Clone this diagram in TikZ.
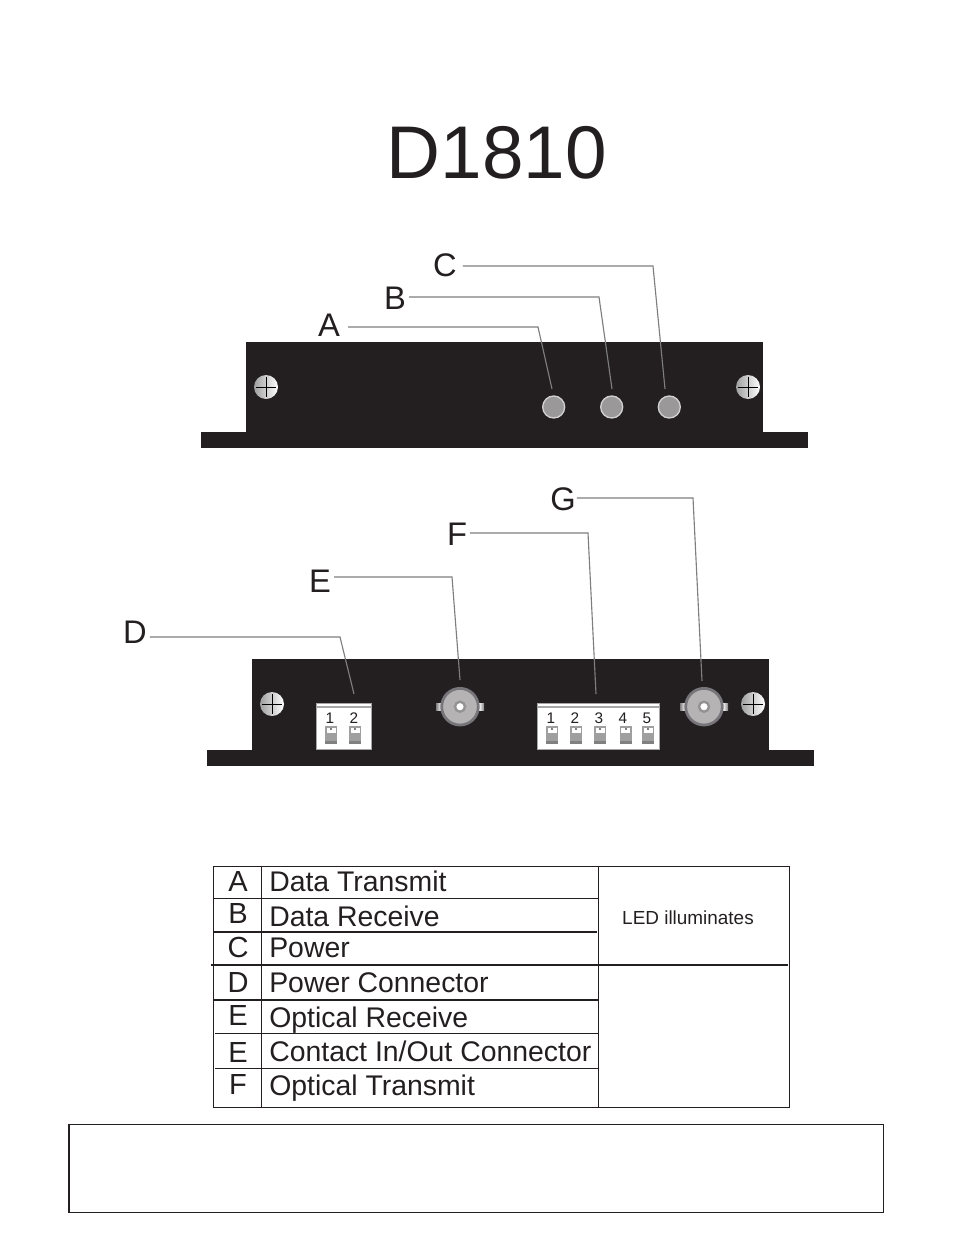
\documentclass[tikz,border=0pt]{standalone}
\usepackage{fontspec}
\setmainfont{Liberation Sans}
\definecolor{panel}{HTML}{231F20}
\definecolor{leaderc}{HTML}{7E7E7E}
\definecolor{ledc}{HTML}{9A9899}
\definecolor{ringc}{HTML}{D2D0D0}
\definecolor{bncc}{HTML}{B5B3B3}
\definecolor{bncd}{HTML}{77757A}
\tikzset{
  panelbox/.style={fill=panel,draw=none},
  leader/.style={draw=leaderc,line width=.85pt},
  callout/.style={font=\fontsize{24.5}{26}\selectfont,text=panel,inner sep=2.2pt},
  ledlamp/.style={circle,fill=ledc,draw=ringc,line width=1pt,minimum size=16.5pt,inner sep=0pt},
  screwhead/.style={circle,left color=gray!75,right color=white,minimum size=18pt,inner sep=0pt},
  screwcross/.style={black,line width=.45pt,shorten >=1.5pt,shorten <=1.5pt},
  bnc/.style={circle,fill=bncc,draw=bncd,line width=2.1pt,minimum size=27.5pt,inner sep=0pt},
  bncpin/.style={circle,fill=white,draw=gray!85,line width=1.8pt,minimum size=7.5pt,inner sep=0pt},
  block/.style={draw=gray!70,line width=1.2pt,fill=white,minimum height=34.5pt,inner sep=0pt},
  pinno/.style={font=\fontsize{11.5}{12}\selectfont,text=panel,inner sep=0pt},
  rule/.style={draw=panel,line width=.7pt},
  heavyrule/.style={draw=panel,line width=1.3pt},
  rowkey/.style={font=\fontsize{21.8}{23}\selectfont,text=panel,anchor=base,inner sep=0pt},
  rowtxt/.style={font=\fontsize{21.3}{23}\selectfont,text=panel,anchor=base west,inner sep=0pt},
}
\begin{document}
\begin{tikzpicture}[x=.75pt,y=-.75pt]
\useasboundingbox (0,0) rectangle (954,1235);
\node[font=\fontsize{56}{60}\selectfont,text=panel,anchor=base,inner sep=0pt] (title) at (497,178) {D1810};
% top panel
\fill[panelbox] (246,342) rectangle (763,440);
\fill[panelbox] (201,432) rectangle (808,448);
\foreach \nm/\sx in {tl/266,tr/748}{
  \node[screwhead] (screw\nm) at (\sx,387) {};
  \draw[screwcross] (screw\nm.west)--(screw\nm.east);
  \draw[screwcross] (screw\nm.north)--(screw\nm.south);
}
\foreach \nm/\lx in {A/553.7,B/611.7,C/669.3}
  \node[ledlamp] (led\nm) at (\lx,407) {};
% bottom panel
\fill[panelbox] (252,659) rectangle (769,758);
\fill[panelbox] (207,750) rectangle (814,766);
\foreach \nm/\sx in {bl/272,br/753}{
  \node[screwhead] (screw\nm) at (\sx,704) {};
  \draw[screwcross] (screw\nm.west)--(screw\nm.east);
  \draw[screwcross] (screw\nm.north)--(screw\nm.south);
}
\foreach \nm/\bx in {E/460,G/704}{
  \fill[left color=gray,right color=white] (\bx-24,703) rectangle (\bx-19,710);
  \fill[left color=white,right color=gray] (\bx+19,703) rectangle (\bx+24,710);
  \node[bnc] (bnc\nm) at (\bx,706.7) {};
  \node[bncpin] (pin\nm) at (bnc\nm) {};
}
\node[block,minimum width=41pt] (blockD) at (344,726.5) {};
\node[block,minimum width=91.5pt] (blockF) at (598.5,726.5) {};
\draw[gray!70,line width=1.2pt] (blockD.north west)++(0,4.5)--++(55,0);
\draw[gray!70,line width=1.2pt] (blockF.north west)++(0,4.5)--++(122,0);
\foreach \n/\dx/\wx in {1/330/331,2/354/355,1/551/552,2/575/576,3/599/600,4/623/625.5,5/647/648}{
  \node[pinno] (no\dx) at (\dx,718) {\n};
  \fill[gray!75] (\wx-6,726) rectangle (\wx+6,744);
  \fill[gray] (\wx-6,741) rectangle (\wx+6,744);
  \fill[white] (\wx-4.5,727.5) rectangle (\wx+4.5,733);
  \fill[gray] (\wx-1,727.5) rectangle (\wx+1,729.5);
}
% call outs
\foreach \nm/\lx/\ly in {A/329/325,B/395/298,C/445/265,D/135/632,E/320/581,F/457/534,G/563/499}
  \node[callout] (lbl\nm) at (\lx,\ly) {\nm};
\foreach \nm/\gap/\ey/\ex/\tx/\ty in {A/3.8/327/538/552/389,B/0/297/599/612/389,C/2.2/266/653/665/389,
    D/0/637/340/354/694,E/0/577/452/460/680,F/0/533/588/596/694,G/-1.5/498/693/702/681}{
  \coordinate (elbow\nm) at (\ex,\ey);
  \coordinate (tip\nm) at (\tx,\ty);
  \draw[leader] ([xshift=\gap pt]lbl\nm.east |- elbow\nm)--(elbow\nm)--(tip\nm);
}
% table
\draw[rule] (213.5,866.5) rectangle (789,1107.5);
\draw[rule] (261.5,866.5)--(261.5,1107.5);
\draw[rule] (598,866.5)--(598,1107.5);
\draw[rule] (213,898.5)--(598,898.5);
\draw[heavyrule] (213,931.7)--(597,931.7);
\draw[heavyrule] (211,964.7)--(788,964.7);
\draw[heavyrule] (213,1000)--(598,1000);
\draw[rule] (215,1033)--(598,1033);
\draw[rule] (215,1068.5)--(598,1068.5);
\foreach \i/\k/\ky/\ty/\t in {1/A/891/891/Data Transmit,2/B/923/926/Data Receive,3/C/957/957/Power,
    4/D/992/992/Power Connector,5/E/1025/1027/Optical Receive,6/E/1062/1061/Contact In\slash Out Connector,7/F/1094/1095/Optical Transmit}{
  \node[rowkey] (key\i) at (238,\ky) {\k};
  \node[rowtxt] (row\i) at (269,\ty) {\t};
}
\node[font=\fontsize{14.2}{16}\selectfont,text=panel,inner sep=0pt] (ledtxt) at (688,917.5) {LED illuminates};
% note box
\draw[draw=panel,line width=1pt] (69,1124.5) rectangle (883.5,1212.5);
\end{tikzpicture}
\end{document}
